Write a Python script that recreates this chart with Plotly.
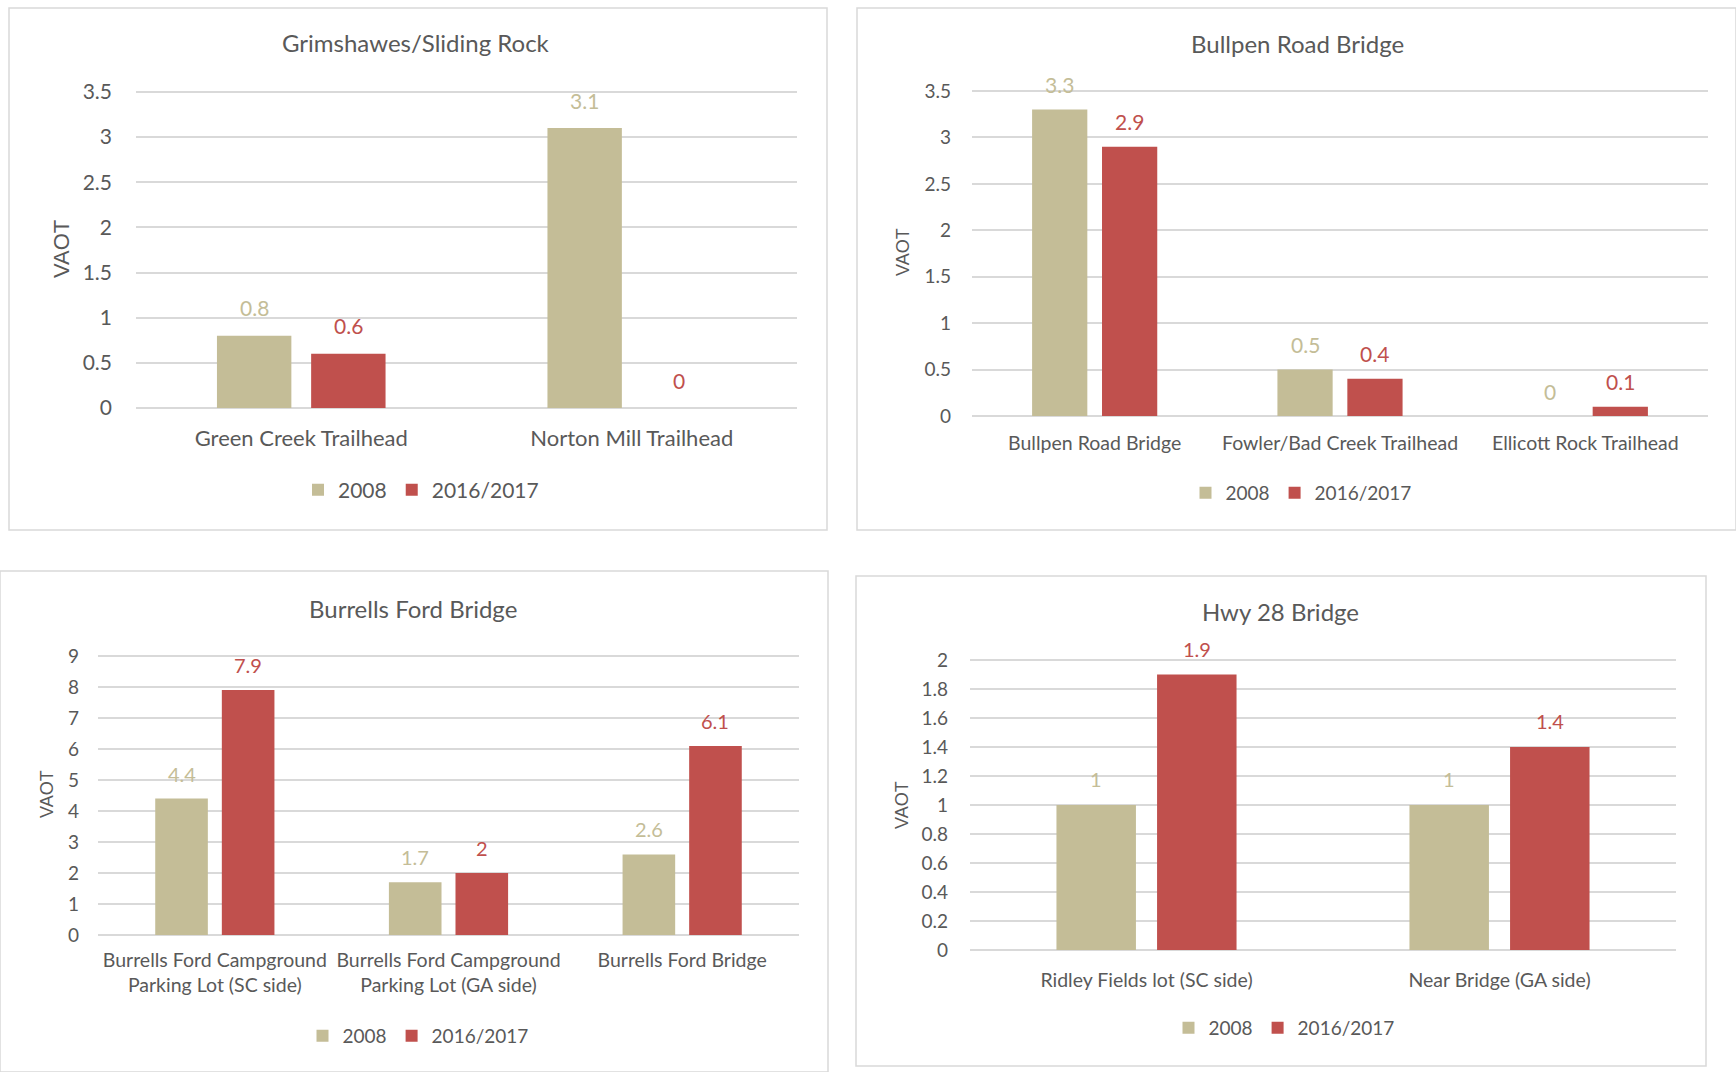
import plotly.graph_objects as go

# ---- data ----
series_names = ["2008", "2016/2017"]

grim_sites = ["Green Creek Trailhead", "Norton Mill Trailhead"]
grim_2008 = [0.8, 3.1]
grim_2017 = [0.6, 0.0]

bull_sites = ["Bullpen Road Bridge", "Fowler/Bad Creek Trailhead", "Ellicott Rock Trailhead"]
bull_2008 = [3.3, 0.5, 0.0]
bull_2017 = [2.9, 0.4, 0.1]

burr_sites = ["Burrells Ford Campground<br>Parking Lot (SC side)",
              "Burrells Ford Campground<br>Parking Lot (GA side)",
              "Burrells Ford Bridge"]
burr_2008 = [4.4, 1.7, 2.6]
burr_2017 = [7.9, 2.0, 6.1]

hwy_sites = ["Ridley Fields lot (SC side)", "Near Bridge (GA side)"]
hwy_2008 = [1.0, 1.0]
hwy_2017 = [1.9, 1.4]

# ---- styling ----
W, H = 1736, 1072
TAN = "#C4BD97"
RED = "#C0504D"
GRID = "#D9D9D9"
TXT = "#595959"
FONT = "Lato"
BARGAP, GROUPGAP = 0.43, 0.21
HEADROOM = 3  # px above the top gridline so it is not clipped at the plot edge

def px(x):
    return x / W

def py(y):
    return 1 - y / H

panels = [
    dict(sites=grim_sites, a=grim_2008, b=grim_2017, title="Grimshawes/Sliding Rock",
         box=(136, 92, 797, 408), ymax=3.5, dtick=0.5, tick=21, cat=22, lab=21, lab_shift=28,
         ttl=24, leg_font=21, standoff=23, catoff=15, vaot=(61, 249, 22), title_xy=(416, 42),
         leg=(421, 490), border=(9, 8, 827, 530)),
    dict(sites=bull_sites, a=bull_2008, b=bull_2017, title="Bullpen Road Bridge",
         box=(972, 91, 1708, 416), ymax=3.5, dtick=0.5, tick=19, cat=19.5, lab=21, lab_shift=25,
         ttl=24, leg_font=19, standoff=20, catoff=13, vaot=(903, 252, 18), title_xy=(1297, 43),
         leg=(1301, 493), border=(857, 8, 1736, 530)),
    dict(sites=burr_sites, a=burr_2008, b=burr_2017, title="Burrells Ford Bridge",
         box=(98, 656, 799, 935), ymax=9, dtick=1, tick=19, cat=19.5, lab=20, lab_shift=25,
         ttl=24, leg_font=19, standoff=18, catoff=11, vaot=(47, 794, 18), title_xy=(413, 608),
         leg=(418, 1036), border=(0, 571, 828, 1072)),
    dict(sites=hwy_sites, a=hwy_2008, b=hwy_2017, title="Hwy 28 Bridge",
         box=(970, 660, 1676, 950), ymax=2, dtick=0.2, tick=19, cat=19.5, lab=20, lab_shift=26,
         ttl=24, leg_font=19, standoff=21, catoff=16, vaot=(902, 805, 18), title_xy=(1280, 611),
         leg=(1284, 1028), border=(856, 576, 1706, 1066)),
]

fig = go.Figure()
layout = dict(
    width=W, height=H, margin=dict(l=0, r=0, t=0, b=0, autoexpand=False),
    paper_bgcolor="white", plot_bgcolor="white",
    barmode="group", bargap=BARGAP, bargroupgap=GROUPGAP,
    font=dict(family=FONT, color=TXT),
    shapes=[], annotations=[],
)

for i, p in enumerate(panels, start=1):
    xa = "x" if i == 1 else f"x{i}"
    ya = "y" if i == 1 else f"y{i}"
    leg = "legend" if i == 1 else f"legend{i}"
    l, t, r, b = p["box"]
    # half a bar slot in pixels, used to centre each value label over its bar
    slot = (r - l) / len(p["sites"]) * (1 - BARGAP) / 2
    for k, (name, vals, col) in enumerate([(series_names[0], p["a"], TAN),
                                            (series_names[1], p["b"], RED)]):
        fig.add_trace(go.Bar(
            x=p["sites"], y=vals, name=name, marker=dict(color=col, line=dict(width=0)),
            xaxis=xa, yaxis=ya, legend=leg, hoverinfo="x+y",
        ))
        for site, v in zip(p["sites"], vals):
            layout["annotations"].append(dict(
                text=f"{v:g}", x=site, y=v, xref=xa, yref=ya, showarrow=False,
                xanchor="center", yanchor="middle", yshift=p["lab_shift"],
                xshift=(k - 0.5) * slot,
                font=dict(size=p["lab"], color=col, family=FONT),
            ))
    layout[f"xaxis{'' if i == 1 else i}"] = dict(
        domain=[px(l), px(r)], anchor=ya, showgrid=False, showline=False, zeroline=False,
        ticks="", tickfont=dict(size=p["cat"], color=TXT, family=FONT),
        ticklabelstandoff=int(p["catoff"]), automargin=False, fixedrange=True,
    )
    top_val = p["ymax"] * (1 + HEADROOM / (b - t))
    layout[f"yaxis{'' if i == 1 else i}"] = dict(
        domain=[py(b), py(t - HEADROOM)], anchor=xa, range=[0, top_val], dtick=p["dtick"],
        showgrid=True, gridcolor=GRID, gridwidth=1.5, zeroline=True, zerolinecolor=GRID,
        zerolinewidth=1.5, showline=False, ticks="", automargin=False,
        tickfont=dict(size=p["tick"], color=TXT, family=FONT),
        ticklabelstandoff=int(p["standoff"]),
    )
    lx, ly = p["leg"]
    layout[leg] = dict(
        orientation="h", x=px(lx), y=py(ly), xanchor="center", yanchor="middle",
        font=dict(size=p["leg_font"], color=TXT, family=FONT), bgcolor="rgba(0,0,0,0)",
        itemwidth=30, traceorder="normal",
    )
    tx, ty = p["title_xy"]
    layout["annotations"].append(dict(
        text=p["title"], x=px(tx), y=py(ty), xref="paper", yref="paper",
        xanchor="center", yanchor="middle", showarrow=False,
        font=dict(size=p["ttl"], color=TXT, family=FONT),
    ))
    vx, vy, vs = p["vaot"]
    layout["annotations"].append(dict(
        text="VAOT", x=px(vx), y=py(vy), xref="paper", yref="paper", textangle=-90,
        xanchor="center", yanchor="middle", showarrow=False,
        font=dict(size=vs, color=TXT, family="Liberation Sans"),
    ))
    bl, bt, br, bb = p["border"]
    layout["shapes"].append(dict(
        type="rect", xref="paper", yref="paper", x0=px(bl), x1=px(br), y0=py(bb), y1=py(bt),
        line=dict(color=GRID, width=1.5), fillcolor="rgba(0,0,0,0)", layer="below",
    ))

fig.update_layout(**layout)
fig.write_html("out.html")
